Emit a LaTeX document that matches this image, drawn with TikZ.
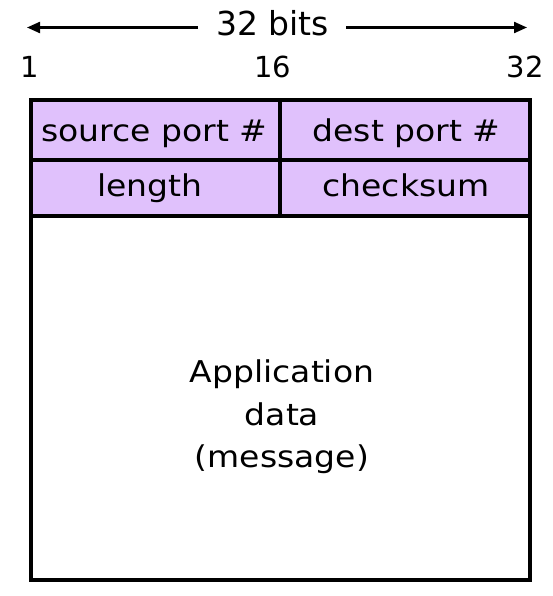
\documentclass[tikz,border=0pt]{standalone}
\usepackage{fontspec}
\setmainfont{DejaVu Sans}
\newfontfamily\widefont[FakeStretch=1.1]{DejaVu Sans}
\usetikzlibrary{arrows.meta}
\definecolor{cellfill}{RGB}{224,193,252}
\begin{document}
\begin{tikzpicture}[x=1pt,y=1pt,
  cell/.style={draw=black, line width=4.3pt, fill=cellfill, inner sep=0pt, outer sep=0pt},
  datacell/.style={draw=black, line width=4.3pt, fill=white, inner sep=0pt, outer sep=0pt},
  lbl/.style={inner sep=0pt, anchor=base, font=\widefont\fontsize{30}{42.5}\selectfont},
  num/.style={inner sep=0pt, anchor=base, font=\fontsize{29}{34}\selectfont},
  arr/.style={line width=2.2pt, -{Triangle[length=13pt,width=11pt]}}]
\useasboundingbox (0,0) rectangle (552,-596);
% cells
\node[datacell, minimum width=499pt, minimum height=364pt] (data) at (280.5,-398) {};
\node[cell, minimum width=249pt, minimum height=60pt] (sp) at (155.5,-130) {};
\node[cell, minimum width=250pt, minimum height=60pt] (dp) at (405,-130) {};
\node[cell, minimum width=249pt, minimum height=56pt] (len) at (155.5,-188) {};
\node[cell, minimum width=250pt, minimum height=56pt] (cs) at (405,-188) {};
% cell texts
\node[lbl] (tsp) at (154.5,-141.7) {source port \#};
\node[lbl] (tdp) at (406.5,-141.7) {dest port \#};
\node[lbl] (tlen) at (150,-196.7) {length};
\node[lbl] (tcs) at (406,-196.7) {checksum};
\node[lbl, align=center] (tdata) at (282,-467.5) {Application\\data\\(message)};
% header
\node[num, font=\fontsize{33}{38}\selectfont] (bits) at (272.5,-35.7) {32 bits};
\node[num] (n1) at (29.5,-78) {1};
\node[num] (n16) at (272.5,-77.5) {16};
\node[num] (n32) at (525,-78) {32};
\coordinate (la) at (27,-27.5);
\coordinate (ra) at (527,-27.5);
\coordinate (lb) at (198,-27.5);
\coordinate (rb) at (346,-27.5);
\draw[arr] (lb) -- (la);
\draw[arr] (rb) -- (ra);
\end{tikzpicture}
\end{document}
